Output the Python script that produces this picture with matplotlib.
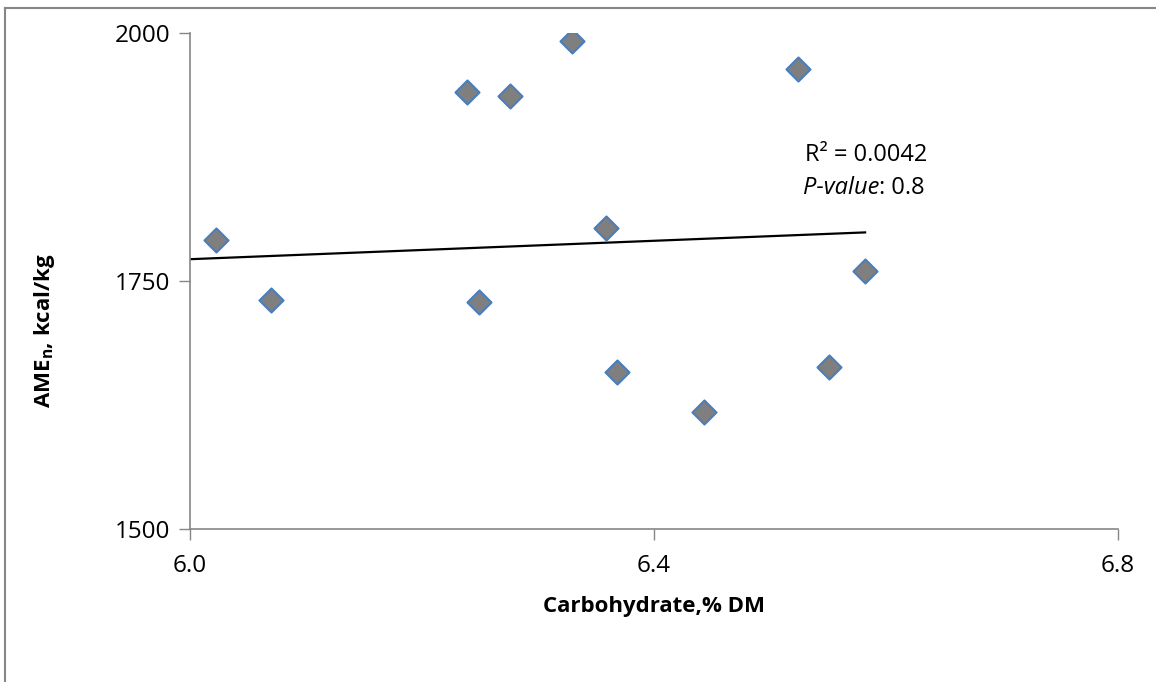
import matplotlib
matplotlib.use("Agg")
from matplotlib import pyplot as plt
from matplotlib.lines import Line2D

plt.rcParams['font.family'] = ['Open Sans', 'DejaVu Sans']
plt.rcParams['mathtext.fontset'] = 'custom'
plt.rcParams['mathtext.rm'] = 'Open Sans'
plt.rcParams['mathtext.bf'] = 'Open Sans:bold'
plt.rcParams['mathtext.it'] = 'Open Sans:italic'

# carbohydrate (% DM) vs AMEn (kcal/kg)
carb = [6.022, 6.070, 6.239, 6.276, 6.329, 6.249, 6.359, 6.368, 6.443, 6.524, 6.551, 6.582]
ame = [1791, 1731, 1941, 1937, 1992, 1729, 1803, 1658, 1618, 1964, 1663, 1760]
# linear trend line as drawn in the original (ends)
trend_x = [6.0, 6.582]
trend_y = [1772, 1799]
x_ticks = [6.0, 6.4, 6.8]
y_ticks = [1500, 1750, 2000]

grey = '#868686'

fig = plt.figure(figsize=(11.56, 6.82), dpi=100)
ax = fig.add_axes([0.1644, 0.2243, 0.8027, 0.7273])

ax.scatter(carb, ame, marker='D', s=150, facecolor='#7f7f7f',
           edgecolor='#4a7ebb', linewidth=1.5, zorder=3)
ax.plot(trend_x, trend_y, color='black', lw=1.6, zorder=2)

ax.set_xlim(6.0, 6.8)
ax.set_ylim(1500, 2000)
ax.set_xticks(x_ticks)
ax.set_xticklabels(['%.1f' % v for v in x_ticks])
ax.set_yticks(y_ticks)
ax.tick_params(labelsize=17.5, length=8, width=1, color=grey, pad=6)
ax.tick_params(axis='x', pad=10)

for s in ['top', 'right']:
    ax.spines[s].set_visible(False)
for s in ['left', 'bottom']:
    ax.spines[s].set_color(grey)
    ax.spines[s].set_linewidth(1.2)

ax.set_xlabel('Carbohydrate,% DM', fontsize=16, fontweight='bold')
ax.xaxis.set_label_coords(0.5, -0.135)
ax.set_ylabel(r'AME$_\mathbf{n}$, kcal/kg', fontsize=16, fontweight='bold')
ax.yaxis.set_label_coords(-0.143, 0.4)

ax.text(866 / 1156, 1 - 155 / 682, 'R\u00b2 = 0.0042', transform=fig.transFigure,
        fontsize=17, ha='center', va='center')
p = ax.text(803 / 1156, 1 - 188 / 682, 'P-value', transform=fig.transFigure,
            fontsize=17, style='italic', ha='left', va='center')
ax.annotate(': 0.8', xy=(1, 0), xycoords=p, fontsize=17, ha='left', va='bottom')

# outer chart border (only top and left visible)
fig.add_artist(Line2D([4.5 / 1156, 4.5 / 1156], [0, 1 - 7.5 / 682], color=grey, lw=1.5,
                      transform=fig.transFigure))
fig.add_artist(Line2D([4.5 / 1156, 1], [1 - 7.5 / 682, 1 - 7.5 / 682], color=grey, lw=1.5,
                      transform=fig.transFigure))

fig.savefig('out.png', dpi=100)
plt.close(fig)
